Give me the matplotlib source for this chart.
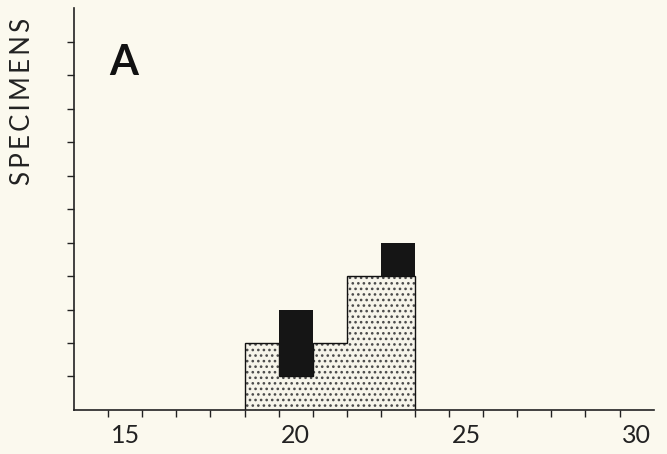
import matplotlib.pyplot as plt
import numpy as np

plt.rcParams['font.family'] = ['Lato', 'DejaVu Sans']
plt.rcParams['hatch.linewidth'] = 1.1

# histogram bins (width 1, edges at half values)
bin_edges = [18.5, 19.5, 20.5, 21.5, 22.5, 23.5]
stippled = [2, 1, 2, 4, 4]
black = [0, 2, 0, 0, 1]
x_labels = [15, 20, 25, 30]

bg = '#fbf9ee'
fig = plt.figure(figsize=(6.67, 4.54), dpi=100, facecolor=bg)
ax = fig.add_axes([0.111, 0.097, 0.869, 0.885], facecolor=bg)

ax.stairs(stippled, bin_edges, fill=True, hatch='...', facecolor='#f6f4ea',
          edgecolor='#4a4a4a', linewidth=0)
ax.stairs(stippled, bin_edges, baseline=0, color='#111111', linewidth=1.0)
ax.bar(bin_edges[:-1], black, bottom=stippled, width=1, align='edge',
       color='#151515', linewidth=0)

ax.set_xlim(13.5, 30.5)
ax.set_ylim(0, 12)
for s in ['top', 'right']:
    ax.spines[s].set_visible(False)
for s in ['left', 'bottom']:
    ax.spines[s].set_linewidth(1.2)
    ax.spines[s].set_color('#222222')

ax.set_xticks(x_labels)
ax.set_xticklabels([str(v) for v in x_labels], fontsize=18, color='#222222')
ax.set_xticks(np.arange(14.5, 30, 1), minor=True)
ax.tick_params(axis='x', which='major', length=0, pad=10)
ax.tick_params(axis='x', which='minor', length=5, width=1, color='#222222')
ax.set_yticks(range(1, 12))
ax.set_yticklabels([])
ax.tick_params(axis='y', length=5, width=1, color='#222222')

fig.text(0.033, 0.777, '\u2009'.join('SPECIMENS'), rotation=90, fontsize=18.5,
         ha='center', va='center', color='#222222')
fig.text(0.185, 0.862, 'A', fontsize=30, fontweight='bold', ha='center',
         va='center', color='#111111')

fig.savefig('out.png', dpi=100, facecolor=bg)
